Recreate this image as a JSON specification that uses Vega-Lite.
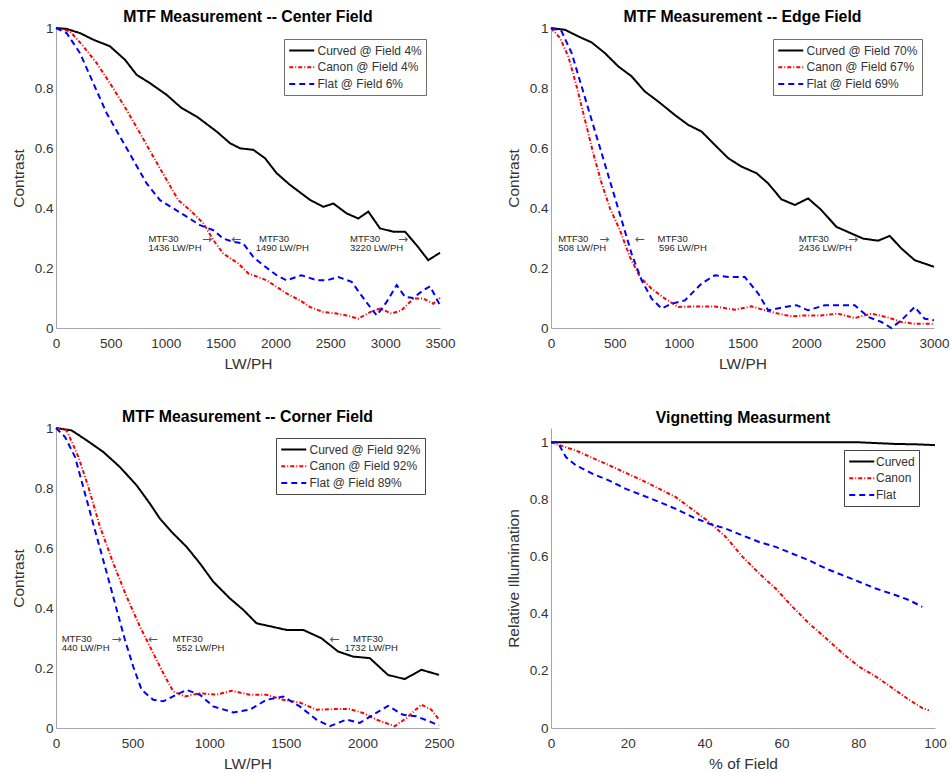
{
  "$schema": "https://vega.github.io/schema/vega-lite/v6.json",
  "background": "white",
  "padding": {"left": 11, "top": 9, "right": 5, "bottom": 2},
  "bounds": "flush",
  "columns": 2,
  "spacing": {"row": 100, "column": 111},
  "config": {
    "font": "Liberation Sans",
    "view": {"stroke": null},
    "axis": {"grid": false, "ticks": false, "labelFlush": false, "domainColor": "#a6a6a6", "domainWidth": 1, "labelColor": "#333333", "labelFontSize": 13.5, "titleColor": "#333333", "titleFontSize": 15.5, "titleFontWeight": "normal"},
    "axisX": {"labelPadding": 8, "titlePadding": 7},
    "axisY": {"labelPadding": 3, "titlePadding": 8},
    "title": {"fontSize": 15.8, "fontWeight": "bold", "color": "#000000", "anchor": "middle"},
    "legend": {"orient": "none", "padding": 4, "strokeColor": "#6e6e6e", "fillColor": "white", "cornerRadius": 0, "labelFontSize": 12, "labelColor": "#333333", "symbolSize": 156.25, "symbolStrokeWidth": 2, "symbolType": "M-1,0H3", "rowPadding": 2.8, "labelOffset": 14.5, "labelLimit": 300, "labelAlign": "left"}
  },
  "resolve": {"scale": {"color": "independent", "strokeDash": "independent", "x": "independent", "y": "independent"}, "legend": {"color": "independent", "strokeDash": "independent"}},
  "datasets": {
    "center": [
      {"s":"Curved @ Field 4%","x":0,"y":1},{"s":"Curved @ Field 4%","x":97,"y":0.997},{"s":"Curved @ Field 4%","x":219,"y":0.983},{"s":"Curved @ Field 4%","x":340,"y":0.961},{"s":"Curved @ Field 4%","x":492,"y":0.939},{"s":"Curved @ Field 4%","x":629,"y":0.894},{"s":"Curved @ Field 4%","x":735,"y":0.844},{"s":"Curved @ Field 4%","x":857,"y":0.816},{"s":"Curved @ Field 4%","x":1009,"y":0.777},{"s":"Curved @ Field 4%","x":1145,"y":0.733},{"s":"Curved @ Field 4%","x":1282,"y":0.705},{"s":"Curved @ Field 4%","x":1464,"y":0.655},{"s":"Curved @ Field 4%","x":1586,"y":0.616},{"s":"Curved @ Field 4%","x":1677,"y":0.599},{"s":"Curved @ Field 4%","x":1798,"y":0.594},{"s":"Curved @ Field 4%","x":1905,"y":0.566},{"s":"Curved @ Field 4%","x":2011,"y":0.516},{"s":"Curved @ Field 4%","x":2133,"y":0.477},{"s":"Curved @ Field 4%","x":2315,"y":0.427},{"s":"Curved @ Field 4%","x":2437,"y":0.404},{"s":"Curved @ Field 4%","x":2528,"y":0.415},{"s":"Curved @ Field 4%","x":2649,"y":0.382},{"s":"Curved @ Field 4%","x":2755,"y":0.365},{"s":"Curved @ Field 4%","x":2847,"y":0.388},{"s":"Curved @ Field 4%","x":2953,"y":0.332},{"s":"Curved @ Field 4%","x":3074,"y":0.321},{"s":"Curved @ Field 4%","x":3181,"y":0.321},{"s":"Curved @ Field 4%","x":3287,"y":0.276},{"s":"Curved @ Field 4%","x":3393,"y":0.226},{"s":"Curved @ Field 4%","x":3500,"y":0.251},
      {"s":"Canon @ Field 4%","x":0,"y":1},{"s":"Canon @ Field 4%","x":128,"y":0.989},{"s":"Canon @ Field 4%","x":249,"y":0.939},{"s":"Canon @ Field 4%","x":371,"y":0.883},{"s":"Canon @ Field 4%","x":492,"y":0.816},{"s":"Canon @ Field 4%","x":644,"y":0.727},{"s":"Canon @ Field 4%","x":766,"y":0.649},{"s":"Canon @ Field 4%","x":887,"y":0.571},{"s":"Canon @ Field 4%","x":1009,"y":0.493},{"s":"Canon @ Field 4%","x":1115,"y":0.426},{"s":"Canon @ Field 4%","x":1221,"y":0.393},{"s":"Canon @ Field 4%","x":1343,"y":0.349},{"s":"Canon @ Field 4%","x":1434,"y":0.293},{"s":"Canon @ Field 4%","x":1525,"y":0.248},{"s":"Canon @ Field 4%","x":1662,"y":0.215},{"s":"Canon @ Field 4%","x":1753,"y":0.182},{"s":"Canon @ Field 4%","x":1920,"y":0.159},{"s":"Canon @ Field 4%","x":2011,"y":0.137},{"s":"Canon @ Field 4%","x":2102,"y":0.115},{"s":"Canon @ Field 4%","x":2224,"y":0.092},{"s":"Canon @ Field 4%","x":2315,"y":0.07},{"s":"Canon @ Field 4%","x":2437,"y":0.053},{"s":"Canon @ Field 4%","x":2558,"y":0.048},{"s":"Canon @ Field 4%","x":2649,"y":0.042},{"s":"Canon @ Field 4%","x":2755,"y":0.031},{"s":"Canon @ Field 4%","x":2862,"y":0.053},{"s":"Canon @ Field 4%","x":2953,"y":0.065},{"s":"Canon @ Field 4%","x":3059,"y":0.048},{"s":"Canon @ Field 4%","x":3150,"y":0.059},{"s":"Canon @ Field 4%","x":3257,"y":0.098},{"s":"Canon @ Field 4%","x":3348,"y":0.098},{"s":"Canon @ Field 4%","x":3439,"y":0.081},{"s":"Canon @ Field 4%","x":3500,"y":0.1},
      {"s":"Flat @ Field 6%","x":0,"y":1},{"s":"Flat @ Field 6%","x":97,"y":0.983},{"s":"Flat @ Field 6%","x":219,"y":0.916},{"s":"Flat @ Field 6%","x":340,"y":0.816},{"s":"Flat @ Field 6%","x":462,"y":0.716},{"s":"Flat @ Field 6%","x":583,"y":0.638},{"s":"Flat @ Field 6%","x":705,"y":0.56},{"s":"Flat @ Field 6%","x":826,"y":0.482},{"s":"Flat @ Field 6%","x":948,"y":0.426},{"s":"Flat @ Field 6%","x":1069,"y":0.399},{"s":"Flat @ Field 6%","x":1191,"y":0.371},{"s":"Flat @ Field 6%","x":1312,"y":0.343},{"s":"Flat @ Field 6%","x":1434,"y":0.326},{"s":"Flat @ Field 6%","x":1525,"y":0.298},{"s":"Flat @ Field 6%","x":1616,"y":0.287},{"s":"Flat @ Field 6%","x":1707,"y":0.282},{"s":"Flat @ Field 6%","x":1798,"y":0.237},{"s":"Flat @ Field 6%","x":1890,"y":0.209},{"s":"Flat @ Field 6%","x":2011,"y":0.176},{"s":"Flat @ Field 6%","x":2102,"y":0.159},{"s":"Flat @ Field 6%","x":2239,"y":0.176},{"s":"Flat @ Field 6%","x":2376,"y":0.159},{"s":"Flat @ Field 6%","x":2467,"y":0.159},{"s":"Flat @ Field 6%","x":2573,"y":0.17},{"s":"Flat @ Field 6%","x":2695,"y":0.154},{"s":"Flat @ Field 6%","x":2771,"y":0.115},{"s":"Flat @ Field 6%","x":2862,"y":0.07},{"s":"Flat @ Field 6%","x":2923,"y":0.042},{"s":"Flat @ Field 6%","x":3014,"y":0.087},{"s":"Flat @ Field 6%","x":3105,"y":0.143},{"s":"Flat @ Field 6%","x":3181,"y":0.104},{"s":"Flat @ Field 6%","x":3257,"y":0.1},{"s":"Flat @ Field 6%","x":3348,"y":0.126},{"s":"Flat @ Field 6%","x":3409,"y":0.139},{"s":"Flat @ Field 6%","x":3500,"y":0.076}
    ],
    "centerNotes": [
      {"x":842,"y":0.297,"t":"MTF30"},{"x":842,"y":0.268,"t":"1436 LW/PH"},{"x":1331,"y":0.297,"t":"→"},
      {"x":1600,"y":0.297,"t":"←"},{"x":1850,"y":0.297,"t":"MTF30"},{"x":1820,"y":0.268,"t":"1490 LW/PH"},
      {"x":2680,"y":0.297,"t":"MTF30"},{"x":2680,"y":0.268,"t":"3220 LW/PH"},{"x":3117,"y":0.297,"t":"→"}
    ],
    "edge": [
      {"s":"Curved @ Field 70%","x":0,"y":1},{"s":"Curved @ Field 70%","x":110,"y":0.994},{"s":"Curved @ Field 70%","x":214,"y":0.972},{"s":"Curved @ Field 70%","x":318,"y":0.952},{"s":"Curved @ Field 70%","x":423,"y":0.916},{"s":"Curved @ Field 70%","x":527,"y":0.872},{"s":"Curved @ Field 70%","x":631,"y":0.839},{"s":"Curved @ Field 70%","x":736,"y":0.788},{"s":"Curved @ Field 70%","x":840,"y":0.755},{"s":"Curved @ Field 70%","x":970,"y":0.71},{"s":"Curved @ Field 70%","x":1075,"y":0.677},{"s":"Curved @ Field 70%","x":1179,"y":0.655},{"s":"Curved @ Field 70%","x":1284,"y":0.61},{"s":"Curved @ Field 70%","x":1388,"y":0.566},{"s":"Curved @ Field 70%","x":1492,"y":0.538},{"s":"Curved @ Field 70%","x":1610,"y":0.516},{"s":"Curved @ Field 70%","x":1701,"y":0.482},{"s":"Curved @ Field 70%","x":1805,"y":0.429},{"s":"Curved @ Field 70%","x":1910,"y":0.41},{"s":"Curved @ Field 70%","x":2014,"y":0.432},{"s":"Curved @ Field 70%","x":2118,"y":0.393},{"s":"Curved @ Field 70%","x":2236,"y":0.337},{"s":"Curved @ Field 70%","x":2353,"y":0.315},{"s":"Curved @ Field 70%","x":2445,"y":0.298},{"s":"Curved @ Field 70%","x":2562,"y":0.291},{"s":"Curved @ Field 70%","x":2653,"y":0.307},{"s":"Curved @ Field 70%","x":2745,"y":0.265},{"s":"Curved @ Field 70%","x":2849,"y":0.226},{"s":"Curved @ Field 70%","x":3000,"y":0.204},
      {"s":"Canon @ Field 67%","x":0,"y":1},{"s":"Canon @ Field 67%","x":70,"y":0.967},{"s":"Canon @ Field 67%","x":136,"y":0.905},{"s":"Canon @ Field 67%","x":201,"y":0.805},{"s":"Canon @ Field 67%","x":266,"y":0.694},{"s":"Canon @ Field 67%","x":331,"y":0.582},{"s":"Canon @ Field 67%","x":397,"y":0.482},{"s":"Canon @ Field 67%","x":462,"y":0.399},{"s":"Canon @ Field 67%","x":540,"y":0.326},{"s":"Canon @ Field 67%","x":618,"y":0.237},{"s":"Canon @ Field 67%","x":697,"y":0.17},{"s":"Canon @ Field 67%","x":788,"y":0.131},{"s":"Canon @ Field 67%","x":892,"y":0.098},{"s":"Canon @ Field 67%","x":997,"y":0.07},{"s":"Canon @ Field 67%","x":1127,"y":0.072},{"s":"Canon @ Field 67%","x":1284,"y":0.072},{"s":"Canon @ Field 67%","x":1440,"y":0.061},{"s":"Canon @ Field 67%","x":1571,"y":0.072},{"s":"Canon @ Field 67%","x":1675,"y":0.059},{"s":"Canon @ Field 67%","x":1779,"y":0.048},{"s":"Canon @ Field 67%","x":1884,"y":0.039},{"s":"Canon @ Field 67%","x":1988,"y":0.042},{"s":"Canon @ Field 67%","x":2118,"y":0.042},{"s":"Canon @ Field 67%","x":2249,"y":0.048},{"s":"Canon @ Field 67%","x":2379,"y":0.033},{"s":"Canon @ Field 67%","x":2510,"y":0.048},{"s":"Canon @ Field 67%","x":2640,"y":0.035},{"s":"Canon @ Field 67%","x":2745,"y":0.02},{"s":"Canon @ Field 67%","x":2849,"y":0.014},{"s":"Canon @ Field 67%","x":3000,"y":0.014},
      {"s":"Flat @ Field 69%","x":0,"y":1},{"s":"Flat @ Field 69%","x":83,"y":0.989},{"s":"Flat @ Field 69%","x":162,"y":0.916},{"s":"Flat @ Field 69%","x":240,"y":0.805},{"s":"Flat @ Field 69%","x":318,"y":0.694},{"s":"Flat @ Field 69%","x":397,"y":0.582},{"s":"Flat @ Field 69%","x":475,"y":0.471},{"s":"Flat @ Field 69%","x":553,"y":0.36},{"s":"Flat @ Field 69%","x":631,"y":0.248},{"s":"Flat @ Field 69%","x":710,"y":0.159},{"s":"Flat @ Field 69%","x":788,"y":0.098},{"s":"Flat @ Field 69%","x":866,"y":0.065},{"s":"Flat @ Field 69%","x":944,"y":0.081},{"s":"Flat @ Field 69%","x":1049,"y":0.092},{"s":"Flat @ Field 69%","x":1179,"y":0.148},{"s":"Flat @ Field 69%","x":1284,"y":0.176},{"s":"Flat @ Field 69%","x":1388,"y":0.17},{"s":"Flat @ Field 69%","x":1518,"y":0.17},{"s":"Flat @ Field 69%","x":1623,"y":0.115},{"s":"Flat @ Field 69%","x":1701,"y":0.059},{"s":"Flat @ Field 69%","x":1832,"y":0.07},{"s":"Flat @ Field 69%","x":1923,"y":0.076},{"s":"Flat @ Field 69%","x":2014,"y":0.059},{"s":"Flat @ Field 69%","x":2145,"y":0.076},{"s":"Flat @ Field 69%","x":2275,"y":0.076},{"s":"Flat @ Field 69%","x":2379,"y":0.076},{"s":"Flat @ Field 69%","x":2484,"y":0.037},{"s":"Flat @ Field 69%","x":2588,"y":0.02},{"s":"Flat @ Field 69%","x":2666,"y":0},{"s":"Flat @ Field 69%","x":2745,"y":0.026},{"s":"Flat @ Field 69%","x":2849,"y":0.07},{"s":"Flat @ Field 69%","x":2927,"y":0.031},{"s":"Flat @ Field 69%","x":3000,"y":0.026}
    ],
    "edgeNotes": [
      {"x":57,"y":0.297,"t":"MTF30"},{"x":57,"y":0.268,"t":"508 LW/PH"},{"x":378,"y":0.297,"t":"→"},
      {"x":657,"y":0.297,"t":"←"},{"x":835,"y":0.297,"t":"MTF30"},{"x":845,"y":0.268,"t":"596 LW/PH"},
      {"x":1941,"y":0.297,"t":"MTF30"},{"x":1941,"y":0.268,"t":"2436 LW/PH"},{"x":2327,"y":0.297,"t":"→"}
    ],
    "corner": [
      {"s":"Curved @ Field 92%","x":0,"y":1},{"s":"Curved @ Field 92%","x":102,"y":0.992},{"s":"Curved @ Field 92%","x":200,"y":0.959},{"s":"Curved @ Field 92%","x":309,"y":0.92},{"s":"Curved @ Field 92%","x":417,"y":0.87},{"s":"Curved @ Field 92%","x":526,"y":0.809},{"s":"Curved @ Field 92%","x":613,"y":0.748},{"s":"Curved @ Field 92%","x":678,"y":0.698},{"s":"Curved @ Field 92%","x":754,"y":0.654},{"s":"Curved @ Field 92%","x":852,"y":0.604},{"s":"Curved @ Field 92%","x":939,"y":0.549},{"s":"Curved @ Field 92%","x":1026,"y":0.488},{"s":"Curved @ Field 92%","x":1135,"y":0.432},{"s":"Curved @ Field 92%","x":1222,"y":0.394},{"s":"Curved @ Field 92%","x":1309,"y":0.349},{"s":"Curved @ Field 92%","x":1407,"y":0.338},{"s":"Curved @ Field 92%","x":1504,"y":0.327},{"s":"Curved @ Field 92%","x":1613,"y":0.327},{"s":"Curved @ Field 92%","x":1733,"y":0.299},{"s":"Curved @ Field 92%","x":1841,"y":0.255},{"s":"Curved @ Field 92%","x":1939,"y":0.238},{"s":"Curved @ Field 92%","x":2048,"y":0.233},{"s":"Curved @ Field 92%","x":2167,"y":0.177},{"s":"Curved @ Field 92%","x":2276,"y":0.163},{"s":"Curved @ Field 92%","x":2385,"y":0.194},{"s":"Curved @ Field 92%","x":2500,"y":0.177},
      {"s":"Canon @ Field 92%","x":0,"y":1},{"s":"Canon @ Field 92%","x":70,"y":0.992},{"s":"Canon @ Field 92%","x":146,"y":0.904},{"s":"Canon @ Field 92%","x":211,"y":0.804},{"s":"Canon @ Field 92%","x":287,"y":0.671},{"s":"Canon @ Field 92%","x":374,"y":0.549},{"s":"Canon @ Field 92%","x":461,"y":0.438},{"s":"Canon @ Field 92%","x":548,"y":0.338},{"s":"Canon @ Field 92%","x":635,"y":0.249},{"s":"Canon @ Field 92%","x":700,"y":0.183},{"s":"Canon @ Field 92%","x":765,"y":0.122},{"s":"Canon @ Field 92%","x":841,"y":0.105},{"s":"Canon @ Field 92%","x":939,"y":0.116},{"s":"Canon @ Field 92%","x":1048,"y":0.111},{"s":"Canon @ Field 92%","x":1146,"y":0.124},{"s":"Canon @ Field 92%","x":1265,"y":0.111},{"s":"Canon @ Field 92%","x":1374,"y":0.111},{"s":"Canon @ Field 92%","x":1483,"y":0.094},{"s":"Canon @ Field 92%","x":1591,"y":0.085},{"s":"Canon @ Field 92%","x":1700,"y":0.061},{"s":"Canon @ Field 92%","x":1809,"y":0.063},{"s":"Canon @ Field 92%","x":1917,"y":0.063},{"s":"Canon @ Field 92%","x":2004,"y":0.05},{"s":"Canon @ Field 92%","x":2091,"y":0.028},{"s":"Canon @ Field 92%","x":2211,"y":0.006},{"s":"Canon @ Field 92%","x":2287,"y":0.033},{"s":"Canon @ Field 92%","x":2385,"y":0.078},{"s":"Canon @ Field 92%","x":2450,"y":0.061},{"s":"Canon @ Field 92%","x":2500,"y":0.028},
      {"s":"Flat @ Field 89%","x":0,"y":1},{"s":"Flat @ Field 89%","x":59,"y":0.97},{"s":"Flat @ Field 89%","x":124,"y":0.904},{"s":"Flat @ Field 89%","x":189,"y":0.782},{"s":"Flat @ Field 89%","x":254,"y":0.66},{"s":"Flat @ Field 89%","x":320,"y":0.538},{"s":"Flat @ Field 89%","x":385,"y":0.416},{"s":"Flat @ Field 89%","x":450,"y":0.294},{"s":"Flat @ Field 89%","x":504,"y":0.205},{"s":"Flat @ Field 89%","x":559,"y":0.127},{"s":"Flat @ Field 89%","x":635,"y":0.094},{"s":"Flat @ Field 89%","x":700,"y":0.089},{"s":"Flat @ Field 89%","x":787,"y":0.111},{"s":"Flat @ Field 89%","x":852,"y":0.127},{"s":"Flat @ Field 89%","x":939,"y":0.111},{"s":"Flat @ Field 89%","x":1026,"y":0.072},{"s":"Flat @ Field 89%","x":1157,"y":0.052},{"s":"Flat @ Field 89%","x":1265,"y":0.061},{"s":"Flat @ Field 89%","x":1374,"y":0.094},{"s":"Flat @ Field 89%","x":1483,"y":0.105},{"s":"Flat @ Field 89%","x":1591,"y":0.072},{"s":"Flat @ Field 89%","x":1700,"y":0.028},{"s":"Flat @ Field 89%","x":1787,"y":0.006},{"s":"Flat @ Field 89%","x":1896,"y":0.028},{"s":"Flat @ Field 89%","x":1983,"y":0.017},{"s":"Flat @ Field 89%","x":2070,"y":0.044},{"s":"Flat @ Field 89%","x":2167,"y":0.074},{"s":"Flat @ Field 89%","x":2265,"y":0.044},{"s":"Flat @ Field 89%","x":2352,"y":0.039},{"s":"Flat @ Field 89%","x":2439,"y":0.022},{"s":"Flat @ Field 89%","x":2500,"y":0.008}
    ],
    "cornerNotes": [
      {"x":37,"y":0.297,"t":"MTF30"},{"x":37,"y":0.268,"t":"440 LW/PH"},{"x":363,"y":0.297,"t":"→"},
      {"x":602,"y":0.297,"t":"←"},{"x":761,"y":0.297,"t":"MTF30"},{"x":787,"y":0.268,"t":"552 LW/PH"},
      {"x":1787,"y":0.297,"t":"←"},{"x":1939,"y":0.297,"t":"MTF30"},{"x":1885,"y":0.268,"t":"1732 LW/PH"}
    ],
    "vig": [
      {"s":"Curved","x":0,"y":1},{"s":"Curved","x":20,"y":1},{"s":"Curved","x":40,"y":1},{"s":"Curved","x":60,"y":1},{"s":"Curved","x":80,"y":1},{"s":"Curved","x":85,"y":0.997},{"s":"Curved","x":90,"y":0.994},{"s":"Curved","x":95,"y":0.993},{"s":"Curved","x":100,"y":0.99},
      {"s":"Canon","x":0,"y":1},{"s":"Canon","x":6.5,"y":0.971},{"s":"Canon","x":15.2,"y":0.919},{"s":"Canon","x":23.9,"y":0.866},{"s":"Canon","x":32.5,"y":0.808},{"s":"Canon","x":41.2,"y":0.721},{"s":"Canon","x":45.5,"y":0.669},{"s":"Canon","x":49.9,"y":0.599},{"s":"Canon","x":54.2,"y":0.541},{"s":"Canon","x":58.5,"y":0.488},{"s":"Canon","x":62.9,"y":0.424},{"s":"Canon","x":67.2,"y":0.366},{"s":"Canon","x":71.6,"y":0.314},{"s":"Canon","x":75.9,"y":0.262},{"s":"Canon","x":80.2,"y":0.215},{"s":"Canon","x":84.6,"y":0.18},{"s":"Canon","x":88.9,"y":0.14},{"s":"Canon","x":93.2,"y":0.099},{"s":"Canon","x":96.7,"y":0.07},{"s":"Canon","x":98.4,"y":0.062},
      {"s":"Flat","x":0,"y":1},{"s":"Flat","x":1.7,"y":1},{"s":"Flat","x":3.9,"y":0.948},{"s":"Flat","x":6.5,"y":0.919},{"s":"Flat","x":10.8,"y":0.89},{"s":"Flat","x":15.2,"y":0.866},{"s":"Flat","x":19.5,"y":0.837},{"s":"Flat","x":23.9,"y":0.814},{"s":"Flat","x":28.2,"y":0.791},{"s":"Flat","x":32.5,"y":0.767},{"s":"Flat","x":36.9,"y":0.738},{"s":"Flat","x":41.2,"y":0.715},{"s":"Flat","x":45.5,"y":0.698},{"s":"Flat","x":49.9,"y":0.674},{"s":"Flat","x":54.2,"y":0.651},{"s":"Flat","x":58.5,"y":0.634},{"s":"Flat","x":62.9,"y":0.61},{"s":"Flat","x":67.2,"y":0.587},{"s":"Flat","x":71.6,"y":0.558},{"s":"Flat","x":75.9,"y":0.535},{"s":"Flat","x":80.2,"y":0.512},{"s":"Flat","x":84.6,"y":0.488},{"s":"Flat","x":88.9,"y":0.469},{"s":"Flat","x":93.2,"y":0.448},{"s":"Flat","x":96.7,"y":0.424}
    ]
  },
  "concat": [
    {
      "width": 384, "height": 300,
      "title": {"text": "MTF Measurement -- Center Field", "offset": -5},
      "layer": [
        {
          "data": {"name": "center"},
          "mark": {"type": "line", "strokeWidth": 2},
          "encoding": {
            "x": {"field": "x", "type": "quantitative", "scale": {"domain": [0, 3500], "nice": false}, "axis": {"values": [0, 500, 1000, 1500, 2000, 2500, 3000, 3500], "format": "d", "title": "LW/PH"}},
            "y": {"field": "y", "type": "quantitative", "scale": {"domain": [0, 1], "nice": false}, "axis": {"values": [0, 0.2, 0.4, 0.6, 0.8, 1], "format": "~g", "title": "Contrast"}},
            "color": {"field": "s", "type": "nominal", "title": null, "scale": {"domain": ["Curved @ Field 4%", "Canon @ Field 4%", "Flat @ Field 6%"], "range": ["#000000", "#ff0000", "#0000ff"]}, "legend": {"legendX": 228, "legendY": 11}},
            "strokeDash": {"field": "s", "type": "nominal", "title": null, "scale": {"domain": ["Curved @ Field 4%", "Canon @ Field 4%", "Flat @ Field 6%"], "range": [[1, 0], [4, 2, 1, 2], [6, 4]]}, "legend": {"legendX": 228, "legendY": 11}}
          }
        },
        {
          "data": {"name": "centerNotes"},
          "transform": [{"filter": "datum.t != '→' && datum.t != '←'"}],
          "mark": {"type": "text", "align": "left", "baseline": "middle", "fontSize": 9.5, "color": "#262626"},
          "encoding": {"x": {"field": "x", "type": "quantitative"}, "y": {"field": "y", "type": "quantitative"}, "text": {"field": "t", "type": "nominal"}}
        },
        {
          "data": {"name": "centerNotes"},
          "transform": [{"filter": "datum.t == '→' || datum.t == '←'"}],
          "mark": {"type": "text", "align": "left", "baseline": "middle", "fontSize": 12, "font": "DejaVu Sans", "color": "#555555"},
          "encoding": {"x": {"field": "x", "type": "quantitative"}, "y": {"field": "y", "type": "quantitative"}, "text": {"field": "t", "type": "nominal"}}
        }
      ]
    },
    {
      "width": 383, "height": 300,
      "title": {"text": "MTF Measurement -- Edge Field", "offset": -5},
      "layer": [
        {
          "data": {"name": "edge"},
          "mark": {"type": "line", "strokeWidth": 2},
          "encoding": {
            "x": {"field": "x", "type": "quantitative", "scale": {"domain": [0, 3000], "nice": false}, "axis": {"values": [0, 500, 1000, 1500, 2000, 2500, 3000], "format": "d", "title": "LW/PH"}},
            "y": {"field": "y", "type": "quantitative", "scale": {"domain": [0, 1], "nice": false}, "axis": {"values": [0, 0.2, 0.4, 0.6, 0.8, 1], "format": "~g", "title": "Contrast"}},
            "color": {"field": "s", "type": "nominal", "title": null, "scale": {"domain": ["Curved @ Field 70%", "Canon @ Field 67%", "Flat @ Field 69%"], "range": ["#000000", "#ff0000", "#0000ff"]}, "legend": {"legendX": 222, "legendY": 11}},
            "strokeDash": {"field": "s", "type": "nominal", "title": null, "scale": {"domain": ["Curved @ Field 70%", "Canon @ Field 67%", "Flat @ Field 69%"], "range": [[1, 0], [4, 2, 1, 2], [6, 4]]}, "legend": {"legendX": 222, "legendY": 11}}
          }
        },
        {
          "data": {"name": "edgeNotes"},
          "transform": [{"filter": "datum.t != '→' && datum.t != '←'"}],
          "mark": {"type": "text", "align": "left", "baseline": "middle", "fontSize": 9.5, "color": "#262626"},
          "encoding": {"x": {"field": "x", "type": "quantitative"}, "y": {"field": "y", "type": "quantitative"}, "text": {"field": "t", "type": "nominal"}}
        },
        {
          "data": {"name": "edgeNotes"},
          "transform": [{"filter": "datum.t == '→' || datum.t == '←'"}],
          "mark": {"type": "text", "align": "left", "baseline": "middle", "fontSize": 12, "font": "DejaVu Sans", "color": "#555555"},
          "encoding": {"x": {"field": "x", "type": "quantitative"}, "y": {"field": "y", "type": "quantitative"}, "text": {"field": "t", "type": "nominal"}}
        }
      ]
    },
    {
      "width": 383, "height": 300,
      "title": {"text": "MTF Measurement -- Corner Field", "offset": -5},
      "layer": [
        {
          "data": {"name": "corner"},
          "mark": {"type": "line", "strokeWidth": 2},
          "encoding": {
            "x": {"field": "x", "type": "quantitative", "scale": {"domain": [0, 2500], "nice": false}, "axis": {"values": [0, 500, 1000, 1500, 2000, 2500], "format": "d", "title": "LW/PH"}},
            "y": {"field": "y", "type": "quantitative", "scale": {"domain": [0, 1], "nice": false}, "axis": {"values": [0, 0.2, 0.4, 0.6, 0.8, 1], "format": "~g", "title": "Contrast"}},
            "color": {"field": "s", "type": "nominal", "title": null, "scale": {"domain": ["Curved @ Field 92%", "Canon @ Field 92%", "Flat @ Field 89%"], "range": ["#000000", "#ff0000", "#0000ff"]}, "legend": {"legendX": 220, "legendY": 10, "strokeColor": "#444444"}},
            "strokeDash": {"field": "s", "type": "nominal", "title": null, "scale": {"domain": ["Curved @ Field 92%", "Canon @ Field 92%", "Flat @ Field 89%"], "range": [[1, 0], [4, 2, 1, 2], [6, 4]]}, "legend": {"legendX": 220, "legendY": 10, "strokeColor": "#444444"}}
          }
        },
        {
          "data": {"name": "cornerNotes"},
          "transform": [{"filter": "datum.t != '→' && datum.t != '←'"}],
          "mark": {"type": "text", "align": "left", "baseline": "middle", "fontSize": 9.5, "color": "#262626"},
          "encoding": {"x": {"field": "x", "type": "quantitative"}, "y": {"field": "y", "type": "quantitative"}, "text": {"field": "t", "type": "nominal"}}
        },
        {
          "data": {"name": "cornerNotes"},
          "transform": [{"filter": "datum.t == '→' || datum.t == '←'"}],
          "mark": {"type": "text", "align": "left", "baseline": "middle", "fontSize": 12, "font": "DejaVu Sans", "color": "#555555"},
          "encoding": {"x": {"field": "x", "type": "quantitative"}, "y": {"field": "y", "type": "quantitative"}, "text": {"field": "t", "type": "nominal"}}
        }
      ]
    },
    {
      "width": 384, "height": 300,
      "title": {"text": "Vignetting Measurment", "offset": 1},
      "data": {"name": "vig"},
      "mark": {"type": "line", "strokeWidth": 2},
      "encoding": {
        "x": {"field": "x", "type": "quantitative", "scale": {"domain": [0, 100], "nice": false}, "axis": {"values": [0, 20, 40, 60, 80, 100], "format": "d", "title": "% of Field"}},
        "y": {"field": "y", "type": "quantitative", "scale": {"domain": [0, 1.05], "nice": false}, "axis": {"values": [0, 0.2, 0.4, 0.6, 0.8, 1], "format": "~g", "title": "Relative Illumination"}},
        "color": {"field": "s", "type": "nominal", "title": null, "scale": {"domain": ["Curved", "Canon", "Flat"], "range": ["#000000", "#ff0000", "#0000ff"]}, "legend": {"legendX": 293, "legendY": 22, "strokeColor": "#444444", "labelOffset": 13}},
        "strokeDash": {"field": "s", "type": "nominal", "title": null, "scale": {"domain": ["Curved", "Canon", "Flat"], "range": [[1, 0], [4, 2, 1, 2], [6, 4]]}, "legend": {"legendX": 293, "legendY": 22, "strokeColor": "#444444", "labelOffset": 13}}
      }
    }
  ]
}
